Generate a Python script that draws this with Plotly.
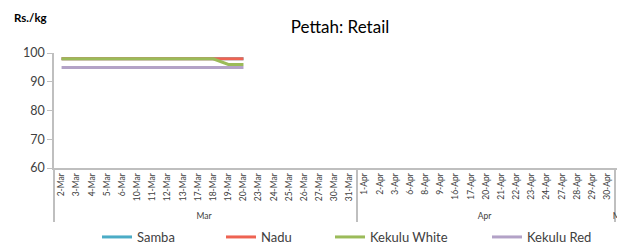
import plotly.graph_objects as go

months = ["Mar"] * 20 + ["Apr"] * 17 + ["May"]
days = ["2-Mar", "3-Mar", "4-Mar", "5-Mar", "6-Mar", "10-Mar", "11-Mar", "12-Mar", "13-Mar",
        "17-Mar", "18-Mar", "19-Mar", "20-Mar", "23-Mar", "24-Mar", "25-Mar", "26-Mar",
        "27-Mar", "30-Mar", "31-Mar",
        "1-Apr", "2-Apr", "3-Apr", "6-Apr", "8-Apr", "9-Apr", "16-Apr", "17-Apr", "20-Apr",
        "21-Apr", "22-Apr", "23-Apr", "24-Apr", "27-Apr", "28-Apr", "29-Apr", "30-Apr",
        "4-May"]
pad = [None] * 25
samba = [98] * 13 + pad
nadu = [98] * 13 + pad
kekulu_white = [98] * 11 + [96, 96] + pad
kekulu_red = [95] * 13 + pad

series = [
    ("Samba", samba, "#4BACC6", "legend"),
    ("Nadu", nadu, "#EE6352", "legend2"),
    ("Kekulu White", kekulu_white, "#9BBB59", "legend3"),
    ("Kekulu Red", kekulu_red, "#B3A2C7", "legend4"),
]

# page is offset by the default 8px body margin
OX, OY = 8, 8
W, H = 625, 242
L = 54 - OX
T = 53 - OY
B_EDGE = 168 - OY
R_EDGE = 630 - OX
PW = R_EDGE - L
PH = B_EDGE - T

fig = go.Figure()
for name, vals, col, lg in series:
    fig.add_trace(go.Scatter(x=[months, days], y=vals, name=name, mode="lines",
                             line=dict(color=col, width=3), legend=lg, showlegend=True))

FONT = "Lato"

def px2x(p):
    return (p - OX - L) / PW

def py2y(p):
    return (B_EDGE - (p - OY)) / PH

legend_pos = {"legend": 97, "legend2": 221, "legend3": 330, "legend4": 487}
leg_layout = {}
for k, p in legend_pos.items():
    leg_layout[k] = dict(x=(p - OX) / W, y=1 - (237 - OY) / H, xref="container", yref="container",
                         xanchor="left", yanchor="middle",
                         orientation="h", bgcolor="rgba(0,0,0,0)",
                         font=dict(family=FONT, size=13, color="#404040"))

fig.update_layout(
    width=W, height=H, showlegend=True,
    margin=dict(l=L, r=W - R_EDGE, t=T, b=H - B_EDGE),
    plot_bgcolor="white", paper_bgcolor="white",
    title=dict(text="Pettah: Retail", x=(340 - OX) / W, xref="container", xanchor="center",
               y=1 - (27 - OY) / H, yref="container", yanchor="middle",
               font=dict(family=FONT, size=17, color="black")),
    xaxis=dict(type="multicategory", range=[-0.5, 37.5], showgrid=False,
               showline=True, linecolor="#BFBFBF", linewidth=1.5,
               tickangle=-90, tickfont=dict(family=FONT, size=8.5, color="#404040"),
               showdividers=True, dividercolor="#BFBFBF", dividerwidth=1.5,
               ticks="", automargin=False),
    yaxis=dict(range=[60, 100], dtick=10, showgrid=False, zeroline=False,
               showline=True, linecolor="#BFBFBF", linewidth=1.5,
               ticks="outside", ticklen=5, tickcolor="#BFBFBF", automargin=False,
               tickfont=dict(family=FONT, size=12.5, color="#404040")),
    annotations=[dict(text="<b>Rs./kg</b>", x=px2x(12), y=py2y(17),
                      xref="paper", yref="paper",
                      showarrow=False, xanchor="left", yanchor="middle",
                      font=dict(family=FONT, size=11.5, color="black"))],
    **leg_layout,
)

fig.write_html("out.html")
